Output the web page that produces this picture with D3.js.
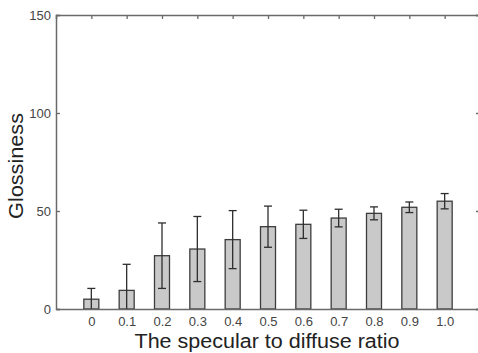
<!DOCTYPE html>
<html>
<head>
<meta charset="utf-8">
<script src="https://cdn.jsdelivr.net/npm/d3@7"></script>
<style>
  body { margin: 0; background: #fff; }
  svg { display: block; }
</style>
</head>
<body>
<figure id="bar" style="margin:0"></figure>
<script>
// data
const categories = ["0", "0.1", "0.2", "0.3", "0.4", "0.5", "0.6", "0.7", "0.8", "0.9", "1.0"];
const glossiness = [5, 9.5, 27.2, 30.6, 35.4, 42, 43.2, 46.4, 48.8, 51.9, 55];
const errors = [5.5, 13.3, 16.7, 16.6, 14.8, 10.5, 7.2, 4.5, 3.3, 2.7, 3.9];
const yTicks = [0, 50, 100, 150];

const width = 478, height = 353;
const plotLeft = 56, plotRight = 480, plotTop = 15, plotBottom = 309;
const font = "'Liberation Sans', Arial, sans-serif";

const svg = d3.select("figure#bar")
  .append("svg")
  .attr("width", width)
  .attr("height", height);

// x as index positions, one slot of padding each side
const x = d3.scaleLinear()
  .domain([-1, categories.length])
  .range([plotLeft, plotRight]);

const y = d3.scaleLinear()
  .domain([0, 150])
  .range([plotBottom, plotTop]);

const data = categories.map((c, i) => ({ c: c, i: i, v: glossiness[i], e: errors[i] }));
const barW = 15;
const axisColor = "#6a6a6a";

// bars
svg.selectAll("rect.bar")
  .data(data)
  .enter()
  .append("rect")
  .attr("class", "bar")
  .attr("x", d => x(d.i) - barW / 2)
  .attr("y", d => y(d.v))
  .attr("width", barW)
  .attr("height", d => y(0) - y(d.v))
  .attr("fill", "#c9c9c9")
  .attr("stroke", "#3c3c3c")
  .attr("stroke-width", 1.3);

// error bars
const eb = svg.selectAll("g.err")
  .data(data)
  .enter()
  .append("g")
  .attr("class", "err")
  .attr("stroke", "#2e2e2e")
  .attr("stroke-width", 1.3);

eb.append("line")
  .attr("x1", d => x(d.i)).attr("x2", d => x(d.i))
  .attr("y1", d => y(d.v + d.e))
  .attr("y2", d => y(Math.max(0, d.v - d.e)));

eb.append("line")
  .attr("x1", d => x(d.i) - 4).attr("x2", d => x(d.i) + 4)
  .attr("y1", d => y(d.v + d.e)).attr("y2", d => y(d.v + d.e));

eb.filter(d => d.v - d.e > 0).append("line")
  .attr("x1", d => x(d.i) - 4).attr("x2", d => x(d.i) + 4)
  .attr("y1", d => y(d.v - d.e)).attr("y2", d => y(d.v - d.e));

// axes (ticks point inward like the original)
const idx = categories.map((c, i) => i);

const xAxis = svg.append("g")
  .attr("transform", "translate(0," + plotBottom + ")")
  .call(d3.axisBottom(x).tickValues(idx).tickSize(0).tickPadding(8)
    .tickFormat(i => categories[i]));

const xTop = svg.append("g")
  .attr("transform", "translate(0," + plotTop + ")")
  .call(d3.axisBottom(x).tickValues(idx).tickSize(4).tickFormat(""));

const yAxis = svg.append("g")
  .attr("transform", "translate(" + plotLeft + ",0)")
  .call(d3.axisLeft(y).tickValues(yTicks).tickSize(-4).tickPadding(5));

const yRight = svg.append("g")
  .attr("transform", "translate(" + plotRight + ",0)")
  .call(d3.axisLeft(y).tickValues(yTicks).tickSize(4).tickFormat(""));

[xAxis, xTop, yAxis, yRight].forEach(g => {
  g.select(".domain").attr("stroke", axisColor).attr("stroke-width", 1.5);
  g.selectAll(".tick line").attr("stroke", axisColor).attr("stroke-width", 1.3);
  g.selectAll("text")
    .attr("fill", "#444")
    .style("font-family", font)
    .style("font-size", "13px");
});

// axis titles
svg.append("text")
  .attr("x", 267)
  .attr("y", 348)
  .attr("text-anchor", "middle")
  .attr("fill", "#222")
  .attr("textLength", 265)
  .attr("lengthAdjust", "spacingAndGlyphs")
  .style("font-family", font)
  .style("font-size", "20px")
  .text("The specular to diffuse ratio");

svg.append("text")
  .attr("transform", "translate(23,166) rotate(-90)")
  .attr("text-anchor", "middle")
  .attr("fill", "#222")
  .attr("textLength", 106)
  .attr("lengthAdjust", "spacingAndGlyphs")
  .style("font-family", font)
  .style("font-size", "20px")
  .text("Glossiness");
</script>
</body>
</html>
